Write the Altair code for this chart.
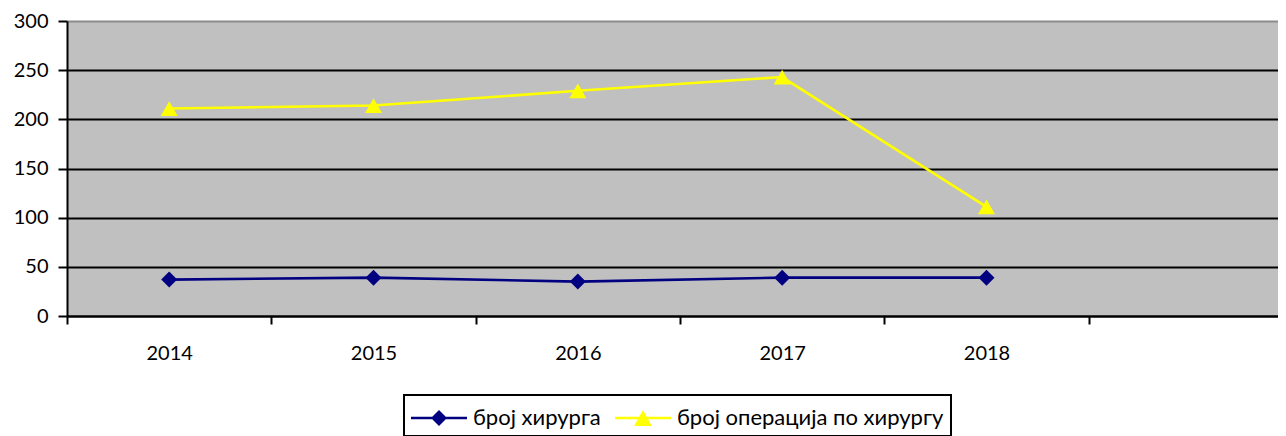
import altair as alt
import pandas as pd

years = ["2014", "2015", "2016", "2017", "2018"]
surgeons = [37, 39, 35, 39, 39]
ops_per_surgeon = [211, 214, 229, 243, 111]
series_names = ["број хирурга", "број операција по хирургу"]
x_domain = years + [" "]
y_ticks = [0, 50, 100, 150, 200, 250, 300]
colors = ["#000080", "#FFFF00"]
marker_shapes = ["diamond", "triangle-up"]
marker_sizes = [256, 289]

FONT = "Lato"
FS = 20
LEG_FS = 22

df = pd.DataFrame({
    "year": years * 2,
    "series": [series_names[0]] * len(years) + [series_names[1]] * len(years),
    "value": surgeons + ops_per_surgeon,
})

x_enc = alt.X(
    "year:N",
    sort=x_domain,
    scale=alt.Scale(type="band", domain=x_domain, range=[0, 1226], paddingInner=0, paddingOuter=0),
    axis=alt.Axis(
        title=None, labelAngle=0, tickBand="extent", grid=False,
        domainColor="black", domainWidth=2, tickColor="black", tickWidth=2, tickSize=8,
        labelFont=FONT, labelFontSize=FS, labelColor="black", labelPadding=19,
    ),
)
y_enc = alt.Y(
    "value:Q",
    scale=alt.Scale(domain=[0, 300], nice=False, zero=True),
    axis=alt.Axis(
        title=None, values=y_ticks, grid=True,
        gridColor={"condition": {"test": "datum.value === 300", "value": "#8c8c8c"}, "value": "black"},
        gridWidth=2, domainColor="black", domainWidth=2, tickColor="black", tickWidth=2, tickSize=9,
        labelFont=FONT, labelFontSize=FS, labelColor="black", labelPadding=10,
    ),
)

base = alt.Chart(df)

layers = []
for name, col in zip(series_names, colors):
    layers.append(
        base.transform_filter(alt.datum.series == name)
        .mark_line(strokeWidth=2.6, color=col)
        .encode(x=x_enc, y=y_enc)
    )
for name, col, shp, sz in zip(series_names, colors, marker_shapes, marker_sizes):
    layers.append(
        base.transform_filter(alt.datum.series == name)
        .mark_point(filled=True, shape=shp, size=sz, opacity=1, color=col)
        .encode(x=x_enc, y=y_enc)
    )

# legend symbols: a short line with the marker on it
legend_paths = [
    "M-1.75,-0.08L1.75,-0.08L1.75,0.08L-1.75,0.08ZM-0.5,0L0,-0.5L0.5,0L0,0.5Z",
    "M-1.75,-0.08L1.75,-0.08L1.75,0.08L-1.75,0.08ZM0,-0.5L0.55,0.5L-0.55,0.5Z",
]
legend_def = alt.Legend(
    title=None, orient="none", legendX=337, legendY=374, direction="horizontal",
    strokeColor="black", padding=7, fillColor="white",
    symbolSize=1024, symbolStrokeWidth=0, symbolOffset=12, labelOffset=18,
    columnPadding=14, labelFont=FONT, labelFontSize=LEG_FS, labelColor="black",
    labelLimit=600, symbolOpacity=1,
)
legend_layer = base.mark_point(opacity=1, size=0, filled=True).encode(
    x=x_enc, y=y_enc,
    fill=alt.Fill("series:N", scale=alt.Scale(domain=series_names, range=colors), legend=legend_def),
    shape=alt.Shape("series:N", scale=alt.Scale(domain=series_names, range=legend_paths), legend=legend_def),
)
layers.append(legend_layer)

chart = alt.layer(*layers).properties(
    width=1211, height=295,
    padding={"left": 59, "top": 13, "right": 0, "bottom": 120},
    autosize=alt.AutoSizeParams(type="none"),
).configure_view(fill="#C0C0C0", stroke=None).configure_legend(strokeWidth=2)

chart.save("out.html", embed_options={"renderer": "svg", "actions": False})
